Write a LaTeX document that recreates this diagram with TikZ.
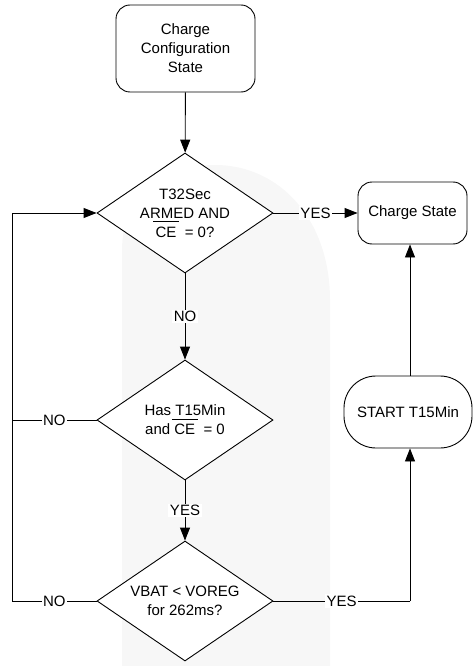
\documentclass[tikz,border=0pt]{standalone}
\usepackage{fontspec}
\setmainfont{Liberation Sans}
\usetikzlibrary{shapes.geometric,arrows.meta}
\newcommand\myovl[1]{\setbox0\hbox{#1}\rlap{\hskip-2.5pt\raisebox{15.5pt}{\rule{\dimexpr\wd0+5pt\relax}{0.8pt}}}\box0}
\begin{document}
\begin{tikzpicture}[x=1pt,y=-1pt,
  font=\fontsize{15}{19}\selectfont,
  line width=0.9pt,
  arr/.style={-{Triangle[length=13pt,width=10pt]}},
  rbox/.style={draw,rectangle,rounded corners=14pt,fill=white,align=center,inner sep=0pt},
  dec/.style={draw,diamond,aspect=1.467,minimum width=176pt,minimum height=120pt,inner sep=0pt,fill=white,align=center},
  lbl/.style={fill=white,inner sep=1.5pt}]
\useasboundingbox (0,0) rectangle (472,666);
% faint watermark
\fill[black!3] (122,666) -- (122,250) .. controls (122,200) and (160,165) .. (215,165)
  .. controls (280,165) and (330,220) .. (330,300) -- (330,666) -- cycle;
% nodes
\node[rbox,minimum width=139pt,minimum height=87pt] (A) at (185.5,48.5) {Charge\\Configuration\\State};
\node[dec] (D1) at (185,213) {T32Sec\\ARMED AND\\\myovl{CE}\ \ = 0?};
\node[dec] (D2) at (185,420) {Has T15Min\\and \myovl{CE}\ \ = 0};
\node[dec] (D3) at (185,601) {VBAT < VOREG\\for 262ms?};
\node[rbox,minimum width=109pt,minimum height=62pt] (B) at (412.5,213) {Charge State};
\node[rbox,rounded corners=32pt,minimum width=128pt,minimum height=72pt] (S) at (408,412) {START T15Min};
\coordinate (cl3) at (12,601);
\coordinate (cl1) at (12,213);
\coordinate (cr3) at (410,601);
% connectors
\draw[arr] (A) -- (D1);
\draw[arr] (D1.east) -- node[lbl]{YES} (B.west);
\draw[arr] (D1.south) -- node[lbl]{NO} (D2.north);
\draw[arr] (D2.south) -- node[lbl]{YES} (D3.north);
\draw (D3.west) -- node[lbl]{NO} (cl3);
\draw[arr] (cl3) -- (cl1) -- (D1.west);
\draw (D2.west) -- node[lbl]{NO} (D2.west -| cl3);
\draw (D3.east) -- node[lbl]{YES} (cr3);
\draw[arr] (cr3) -- (cr3 |- S.south);
\draw[arr] (cr3 |- S.north) -- (cr3 |- B.south);
\end{tikzpicture}
\end{document}
